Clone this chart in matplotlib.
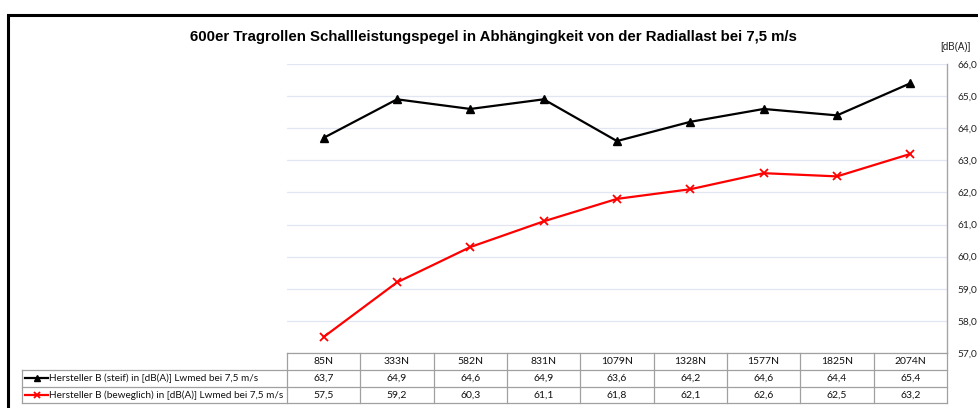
import matplotlib
matplotlib.use("Agg")
import matplotlib.pyplot as plt
from matplotlib.patches import Rectangle
from matplotlib.lines import Line2D
import matplotlib.transforms as mtransforms

categories = ["85N", "333N", "582N", "831N", "1079N", "1328N", "1577N", "1825N", "2074N"]
steif = [63.7, 64.9, 64.6, 64.9, 63.6, 64.2, 64.6, 64.4, 65.4]
beweglich = [57.5, 59.2, 60.3, 61.1, 61.8, 62.1, 62.6, 62.5, 63.2]
series_names = [
    "Hersteller B (steif) in [dB(A)] Lwmed bei 7,5 m/s",
    "Hersteller B (beweglich) in [dB(A)] Lwmed bei 7,5 m/s",
]
title = "600er Tragrollen Schallleistungspegel in Abhängingkeit von der Radiallast bei 7,5 m/s"
y_ticks = [57.0, 58.0, 59.0, 60.0, 61.0, 62.0, 63.0, 64.0, 65.0, 66.0]

W, H = 979, 408
fig = plt.figure(figsize=(W / 100, H / 100), dpi=100)
fig.patch.set_facecolor("white")

def px(x0, y0, x1, y1):
    return [x0 / W, 1 - y1 / H, (x1 - x0) / W, (y1 - y0) / H]

# outer chart frame (runs off the right and bottom edge)
fig.patches.append(Rectangle((8.5 / W, -0.1), 1.2, 1 - 14.5 / H + 0.1,
                             transform=fig.transFigure, fill=False,
                             edgecolor="black", linewidth=2.2, zorder=10))

ax = fig.add_axes(px(287, 64, 947, 353))
n = len(categories)
xs = list(range(n))
ax.set_xlim(-0.5, n - 0.5)
ax.set_ylim(57.0, 66.0)

for s in ["left", "top", "bottom"]:
    ax.spines[s].set_visible(False)
ax.spines["right"].set_color("#A6A6A6")
ax.spines["right"].set_linewidth(1.0)
ax.yaxis.tick_right()
ax.set_yticks(y_ticks)
ax.set_yticklabels([f"{v:.1f}".replace(".", ",") for v in y_ticks],
                   fontsize=7.3, family="Lato", color="#222222")
ax.tick_params(axis="y", length=0, pad=7.5)
ax.set_xticks([])
ax.grid(axis="y", color="#E1E7F2", linewidth=0.9)
ax.set_axisbelow(True)

ax.plot(xs, steif, color="black", linewidth=1.6, marker="^", markersize=6,
        markerfacecolor="black", markeredgecolor="black", clip_on=False, zorder=3)
ax.plot(xs, beweglich, color="#FF0000", linewidth=1.6, marker="x", markersize=5.5,
        markeredgewidth=1.3, clip_on=False, zorder=3)

fig.text(493 / W, 1 - 37 / H, title, ha="center", va="center",
         fontsize=10.8, fontweight="bold", family="Liberation Sans")
fig.text(955 / W, 1 - 47 / H, "[dB(A)]", ha="center", va="center",
         fontsize=7, family="Liberation Sans", color="#222222")

# data table under the plot
grid_c = "#A0A0A0"
trans = mtransforms.blended_transform_factory(ax.transData, fig.transFigure)
left_x = -0.5 - (287 - 22) / ((947 - 287) / n)
row_y = [353, 369.5, 386.5, 403]  # pixel row edges
fy = lambda p: 1 - p / H

def hline(x0, x1, ypx):
    fig.add_artist(Line2D([x0, x1], [fy(ypx)] * 2, transform=trans,
                          color=grid_c, linewidth=0.9, clip_on=False))

def vline(x, y0px, y1px):
    fig.add_artist(Line2D([x, x], [fy(y0px), fy(y1px)], transform=trans,
                          color=grid_c, linewidth=0.9, clip_on=False))

hline(-0.5, n - 0.5, row_y[0])
hline(left_x, n - 0.5, row_y[1])
hline(left_x, n - 0.5, row_y[2])
hline(left_x, n - 0.5, row_y[3])
for i in range(n + 1):
    vline(-0.5 + i, row_y[0], row_y[3])
vline(left_x, row_y[1], row_y[3])

tfont = dict(fontsize=7.5, family="Lato", color="#111111", ha="center", va="center")
for i, c in enumerate(categories):
    fig.text(i, fy((row_y[0] + row_y[1]) / 2), c, transform=trans, **tfont)
for r, (vals, name) in enumerate([(steif, series_names[0]), (beweglich, series_names[1])]):
    ymid = fy((row_y[r + 1] + row_y[r + 2]) / 2)
    for i, v in enumerate(vals):
        fig.text(i, ymid, f"{v:.1f}".replace(".", ","), transform=trans, **tfont)
    fig.text(49 / W, ymid, name, transform=fig.transFigure, fontsize=7.2, family="Lato",
             color="#111111", ha="left", va="center")

# legend keys inside the table
for r, (col, mk, mew) in enumerate([("black", "^", 1.0), ("#FF0000", "x", 1.3)]):
    ymid = fy((row_y[r + 1] + row_y[r + 2]) / 2)
    fig.add_artist(Line2D([25 / W, 48 / W], [ymid, ymid], transform=fig.transFigure,
                          color=col, linewidth=1.6))
    fig.add_artist(Line2D([36.5 / W], [ymid], transform=fig.transFigure, color=col,
                          marker=mk, markersize=5, markeredgewidth=mew,
                          markerfacecolor=col, markeredgecolor=col, linestyle="none"))

fig.savefig("out.png", dpi=100, facecolor="white")
